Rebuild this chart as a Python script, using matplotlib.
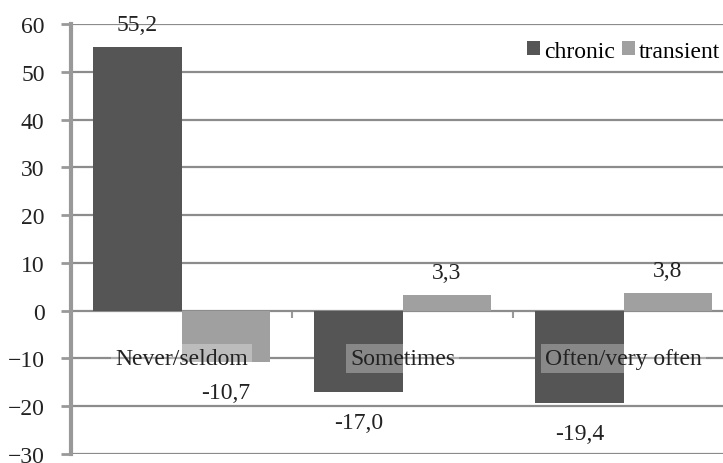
import numpy as np
import matplotlib
matplotlib.use('Agg')
import matplotlib.pyplot as plt

categories = ['Never/seldom', 'Sometimes', 'Often/very often']
chronic = [55.2, -17.0, -19.4]
transient = [-10.7, 3.3, 3.8]
series_names = ['chronic', 'transient']

plt.rcParams['font.family'] = ['Liberation Serif', 'DejaVu Serif']
FS = 17

def fmt(v):
    return f'{v:.1f}'.replace('.', ',')

def addlabels(ax, xs, ys):
    for x, y in zip(xs, ys):
        if y >= 0:
            ax.annotate(fmt(y), (x, y), xytext=(0, 16), textcoords='offset points',
                        ha='center', va='center', fontsize=FS, color='#222222')
        else:
            ax.annotate(fmt(y), (x, y), xytext=(0, -22), textcoords='offset points',
                        ha='center', va='center', fontsize=FS, color='#222222')

def main():
    fig = plt.figure(figsize=(7.23, 4.64), dpi=100)
    ax = fig.add_axes([71 / 723, 9 / 464, 652 / 723, 430 / 464])

    x = np.arange(len(categories))
    w = 0.4
    ax.bar(x - w / 2, chronic, width=w, color='#555555', label=series_names[0], zorder=2)
    ax.bar(x + w / 2, transient, width=w, color='#a0a0a0', label=series_names[1], zorder=2)

    addlabels(ax, x - w / 2, chronic)
    addlabels(ax, x + w / 2, transient)

    for i, c in enumerate(categories):
        ax.text(i, -10, c, ha='center', va='center', fontsize=FS, color='#222222', zorder=3,
                bbox=dict(facecolor='white', alpha=0.3, edgecolor='none', pad=3))

    ax.set_xlim(-0.5, 2.45)
    ax.set_ylim(-30, 60)
    ax.set_yticks(np.arange(-30, 61, 10))
    ax.yaxis.grid(True, color='#8c8c8c', linewidth=1.6, zorder=0)
    ax.set_axisbelow(True)

    for s in ['top', 'right']:
        ax.spines[s].set_visible(False)
    ax.spines['left'].set_color('#999999')
    ax.spines['left'].set_linewidth(3)
    ax.spines['bottom'].set_position(('data', 0))
    ax.spines['bottom'].set_visible(False)

    # small ticks between the categories on the zero line
    ax.set_xticks([0.5, 1.5])
    ax.set_xticklabels(['', ''])
    ax.tick_params(axis='x', direction='out', length=5, width=1.5, color='#999999')
    ax.tick_params(axis='y', direction='out', length=7, width=2, color='#999999',
                   labelsize=FS, pad=12, labelcolor='#222222')

    ax.legend(loc='center right', bbox_to_anchor=(0.995, 0.937), ncol=2, frameon=False,
              fontsize=FS, handlelength=0.55, handleheight=0.55, handletextpad=0.15,
              columnspacing=0.3, borderpad=0, borderaxespad=0)

    plt.savefig('out.png', dpi=100)

if __name__ == '__main__':
    main()
